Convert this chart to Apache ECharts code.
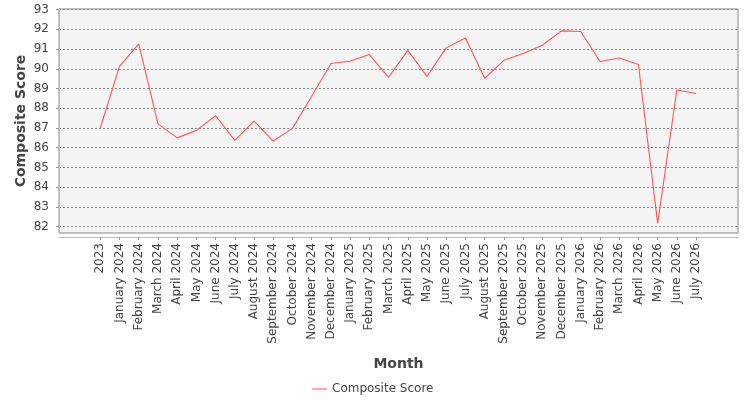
<!DOCTYPE html>
<html>
<head>
<meta charset="utf-8">
<script src="https://cdn.jsdelivr.net/npm/echarts@6/dist/echarts.min.js"></script>
<style>
  html, body { margin: 0; padding: 0; background: #fff; }
  #chartRoot { width: 750px; height: 400px; }
</style>
</head>
<body>
<div id="chartRoot"></div>
<script>
// 月份类目
const months = [
    "2023",
    "January 2024", "February 2024", "March 2024", "April 2024", "May 2024", "June 2024",
    "July 2024", "August 2024", "September 2024", "October 2024", "November 2024", "December 2024",
    "January 2025", "February 2025", "March 2025", "April 2025", "May 2025", "June 2025",
    "July 2025", "August 2025", "September 2025", "October 2025", "November 2025", "December 2025",
    "January 2026", "February 2026", "March 2026", "April 2026", "May 2026", "June 2026", "July 2026"
];

// 综合得分
const compositeScore = [
    87.0,
    90.12, 91.26, 87.21, 86.50, 86.88, 87.62,
    86.37, 87.35, 86.34, 86.98, 88.61, 90.27,
    90.38, 90.72, 89.57, 90.93, 89.62, 91.06,
    91.56, 89.52, 90.43, 90.77, 91.19, 91.92,
    91.89, 90.37, 90.55, 90.22, 82.17, 88.93, 88.75
];

// y轴刻度
const yTicks = [82, 83, 84, 85, 86, 87, 88, 89, 90, 91, 92, 93];

const textColor = "#444";
const fontFamily = "DejaVu Sans";
const yMin = 81.68;
const yMax = 93.03;

const myChart = echarts.init(document.querySelector("#chartRoot"));
const option = {
    animation: false,
    textStyle: { fontFamily },
    legend: {
        data: ["Composite Score"],
        top: 378,
        left: 307,
        icon: "rect",
        itemWidth: 15,
        itemHeight: 1,
        textStyle: { color: textColor, fontSize: 12, fontFamily }
    },
    grid: [
        // 外框和网格线
        {
            left: 59, top: 9, width: 679, height: 224,
            show: true,
            backgroundColor: "#f4f4f4",
            borderColor: "#888",
            borderWidth: 1
        },
        // 折线所在区域（类目边距）
        {
            left: 90.7, top: 9, width: 615, height: 224
        }
    ],
    xAxis: [
        {
            gridIndex: 0,
            type: "value",
            min: 0, max: 1,
            offset: 4,
            axisLine: { show: true, lineStyle: { color: "#bbb", width: 1 } },
            axisTick: { show: false },
            axisLabel: { show: false },
            splitLine: { show: false },
            name: "Month",
            nameLocation: "middle",
            nameGap: 120,
            nameMoveOverlap: false,
            nameTextStyle: { color: textColor, fontSize: 14, fontWeight: "bold", fontFamily }
        },
        {
            gridIndex: 1,
            type: "category",
            data: months,
            boundaryGap: true,
            offset: 4,
            axisLine: { show: false },
            axisTick: { show: true, alignWithLabel: true, length: 3, lineStyle: { color: "#999" } },
            axisLabel: {
                interval: 0,
                rotate: 90,
                margin: 6,
                color: textColor,
                fontSize: 12,
                fontFamily
            }
        }
    ],
    yAxis: [
        {
            gridIndex: 0,
            type: "value",
            min: yMin,
            max: yMax,
            offset: 4,
            axisLine: { show: true, lineStyle: { color: "#bbb", width: 1 } },
            axisTick: { show: true, length: 3, customValues: yTicks, lineStyle: { color: "#999" } },
            axisLabel: {
                customValues: yTicks,
                margin: 6,
                color: textColor,
                fontSize: 12,
                fontFamily
            },
            splitLine: {
                show: true,
                lineStyle: { color: "#888", type: [2, 2], width: 1 }
            },
            name: "Composite Score",
            nameLocation: "middle",
            nameGap: 27,
            nameMoveOverlap: false,
            nameTextStyle: { color: textColor, fontSize: 14, fontWeight: "bold", fontFamily }
        },
        {
            gridIndex: 1,
            type: "value",
            min: yMin,
            max: yMax,
            show: false,
            splitLine: { show: false }
        }
    ],
    series: [
        {
            name: "Composite Score",
            type: "line",
            xAxisIndex: 1,
            yAxisIndex: 1,
            data: compositeScore,
            symbol: "none",
            color: "#ff5555",
            lineStyle: { color: "#ff5555", width: 1.1 }
        }
    ]
};
myChart.setOption(option, true);
</script>
</body>
</html>
